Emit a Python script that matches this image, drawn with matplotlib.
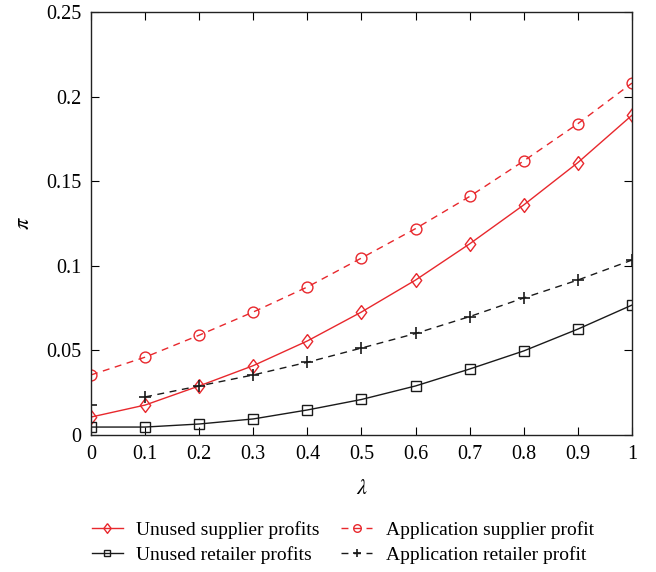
import matplotlib.pyplot as plt

plt.rcParams['font.family'] = ['Liberation Serif', 'DejaVu Serif']
plt.rcParams['mathtext.fontset'] = 'stix'

# Datos
lam = [0, 0.1, 0.2, 0.3, 0.4, 0.5, 0.6, 0.7, 0.8, 0.9, 1.0]
unused_supplier = [0.0106, 0.0177, 0.029, 0.041, 0.0556, 0.0727, 0.0916, 0.113, 0.136, 0.161, 0.189]
app_supplier = [0.0355, 0.046, 0.059, 0.0727, 0.0875, 0.1046, 0.122, 0.141, 0.162, 0.184, 0.208]
unused_retailer = [0.0047, 0.0047, 0.0065, 0.0095, 0.0148, 0.021, 0.029, 0.039, 0.0497, 0.0626, 0.0768]
app_retailer = [0.0177, 0.0225, 0.029, 0.0355, 0.043, 0.0514, 0.060, 0.070, 0.081, 0.0916, 0.1034]
xticks = [0, 0.1, 0.2, 0.3, 0.4, 0.5, 0.6, 0.7, 0.8, 0.9, 1]
xtick_labels = ['0', '0.1', '0.2', '0.3', '0.4', '0.5', '0.6', '0.7', '0.8', '0.9', '1']
yticks = [0, 0.05, 0.1, 0.15, 0.2, 0.25]
ytick_labels = ['0', '0.05', '0.1', '0.15', '0.2', '0.25']

red = '#e8282d'
black = '#1a1a1a'
# rombo un poco mas ancho que 'd'
diamond = [(0, 1), (0.75, 0), (0, -1), (-0.75, 0), (0, 1)]

fig = plt.figure(figsize=(6.56, 5.72), dpi=100)
ax = fig.add_axes([0.1387, 0.2395, 0.8247, 0.7395])

h1, = ax.plot(lam, unused_supplier, '-', color=red, lw=1, marker=diamond, ms=10,
              mfc='none', mec=red, label='Unused supplier profits')
h2, = ax.plot(lam, app_supplier, '--', color=red, lw=1, marker='o', ms=7.8,
              mfc='none', mec=red, dashes=(5, 4), label='Application supplier profit')
h3, = ax.plot(lam, unused_retailer, '-', color=black, lw=1, marker='s', ms=6.8,
              mfc='none', mec=black, label='Unused retailer profits')
# la linea discontinua empieza en 0.1; el punto en 0 va solo
h4, = ax.plot(lam[1:], app_retailer[1:], '--', color=black, lw=1, marker='+', ms=9,
              mew=1.2, dashes=(5, 4), label='Application retailer profit')
ax.plot(lam[:1], app_retailer[:1], ls='none', color=black, marker='+', ms=9, mew=1.2)

ax.set_xlim(0, 1)
ax.set_ylim(0, 0.25)
ax.set_xticks(xticks)
ax.set_xticklabels(xtick_labels)
ax.set_yticks(yticks)
ax.set_yticklabels(ytick_labels)
ax.tick_params(direction='in', top=True, right=True, labelsize=14.5, length=6, width=0.8, pad=7)
for s in ax.spines.values():
    s.set_linewidth(1)
    s.set_color('#222222')

ax.set_xlabel(r'$\lambda$', fontsize=16, labelpad=12)
ax.set_ylabel(r'$\pi$', fontsize=16, labelpad=9)

fig.legend(handles=[h1, h3, h2, h4], loc='lower left', bbox_to_anchor=(0.113, -0.016),
           ncol=2, frameon=False, fontsize=14, handlelength=1.6, columnspacing=1.1,
           handletextpad=0.7, labelspacing=0.35, markerscale=0.7)

plt.savefig('out.png', dpi=100)
plt.close()
